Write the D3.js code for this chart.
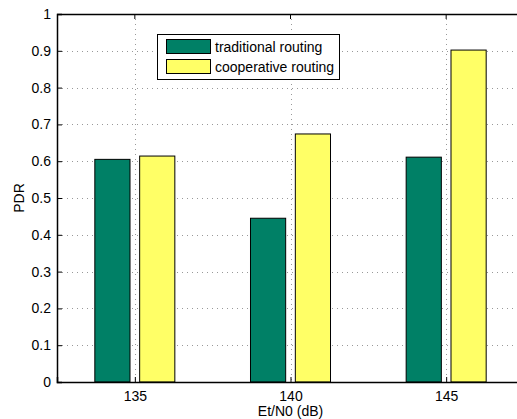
<!DOCTYPE html>
<html><head><meta charset="utf-8">
<script src="https://cdn.jsdelivr.net/npm/d3@7"></script>
<style>body{margin:0;background:#fff}svg{display:block}text{font-family:"Liberation Sans",Arial,sans-serif}</style>
</head><body>
<script>
const categories = [135, 140, 145];
const seriesNames = ["traditional routing", "cooperative routing"];
const traditional = [0.605, 0.445, 0.611];
const cooperative = [0.614, 0.674, 0.902];
const yTicks = [0, 0.1, 0.2, 0.3, 0.4, 0.5, 0.6, 0.7, 0.8, 0.9, 1];
const colors = ["#008066", "#ffff66"];

const W = 517, H = 419;
const L = 57, R = 524, T = 14, B = 382;
const FS = 14;
const svg = d3.select("body").append("svg").attr("width", W).attr("height", H);
const x = d3.scaleLinear().domain([132.5, 147.5]).range([L, R]);
const y = d3.scaleLinear().domain([0, 1]).range([B, T]);

const grid = svg.append("g").attr("stroke", "#999").attr("stroke-width", 1).attr("stroke-dasharray", "1,4");
grid.selectAll(".gy").data(yTicks.slice(1, -1)).join("line")
  .attr("x1", L).attr("x2", W).attr("y1", d => Math.round(y(d)) + 0.5).attr("y2", d => Math.round(y(d)) + 0.5);
grid.selectAll(".gx").data(categories).join("line")
  .attr("y1", T).attr("y2", B).attr("x1", d => Math.round(x(d)) + 0.5).attr("x2", d => Math.round(x(d)) + 0.5);

const off = 0.72, bw = 1.13;
const series = [traditional, cooperative];
series.forEach((vals, si) => {
  svg.append("g").selectAll("rect").data(vals).join("rect")
    .attr("x", (d, i) => x(categories[i] + (si === 0 ? -off : off) - bw / 2))
    .attr("width", x(132.5 + bw) - x(132.5))
    .attr("y", d => y(d)).attr("height", d => B - y(d))
    .attr("fill", colors[si]).attr("stroke", "#000").attr("stroke-width", 1);
});

// axes
const yAxis = d3.axisLeft(y).tickValues(yTicks).tickFormat(d => d3.format("")(d)).tickSize(-5).tickPadding(6);
const gy = svg.append("g").attr("transform", `translate(${L},0)`).call(yAxis);
const xAxis = d3.axisBottom(x).tickValues(categories).tickSize(-5).tickPadding(9);
const gx = svg.append("g").attr("transform", `translate(0,${B})`).call(xAxis);
[gx, gy].forEach(g => {
  g.selectAll("text").attr("font-size", FS).attr("fill", "#000").style("font-family", '"Liberation Sans",Arial,sans-serif');
  g.selectAll("line").attr("stroke", "#000");
  g.select(".domain").attr("stroke", "#000").attr("stroke-width", 1.5);
});
svg.append("line").attr("x1", L).attr("x2", W).attr("y1", T + 0.5).attr("y2", T + 0.5).attr("stroke", "#000").attr("stroke-width", 1.5);
svg.append("g").selectAll("line").data(categories).join("line")
  .attr("x1", d => x(d)).attr("x2", d => x(d)).attr("y1", T).attr("y2", T + 5).attr("stroke", "#000");

svg.append("text").attr("x", x(140)).attr("y", 416).attr("text-anchor", "middle").attr("font-size", FS).text("Et/N0 (dB)");
svg.append("text").attr("transform", `translate(24,${(T + B) / 2}) rotate(-90)`).attr("text-anchor", "middle").attr("font-size", FS).text("PDR");

// legend
const lg = svg.append("g");
lg.append("rect").attr("x", 157.5).attr("y", 34.5).attr("width", 182).attr("height", 45).attr("fill", "#fff").attr("stroke", "#000");
seriesNames.forEach((n, i) => {
  lg.append("rect").attr("x", 166.5).attr("y", 39.5 + i * 20).attr("width", 44).attr("height", 14).attr("fill", colors[i]).attr("stroke", "#000");
  lg.append("text").attr("x", 215).attr("y", 52 + i * 20).attr("font-size", FS).text(n);
});
</script>
</body></html>
